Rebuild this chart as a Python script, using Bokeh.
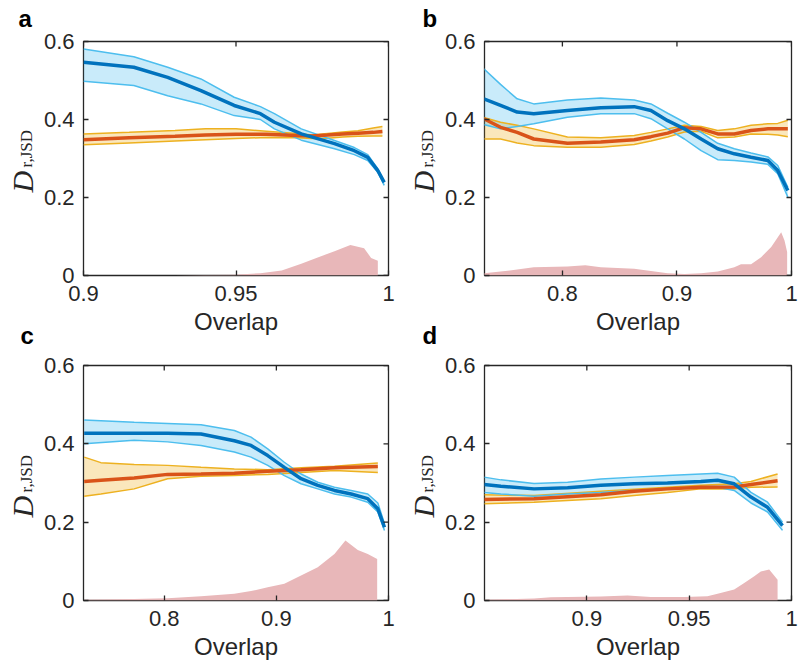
import math
from bokeh.plotting import figure
from bokeh.models import Range1d, FixedTicker, Label
from bokeh.layouts import column, row
from bokeh.embed import file_html
from bokeh.resources import INLINE

# ---------------- data ----------------
y_range = [0.0, 0.6]
y_ticks = [0.0, 0.2, 0.4, 0.6]
y_tick_labels = ["0", "0.2", "0.4", "0.6"]
panel_letters = ["a", "b", "c", "d"]
x_label = "Overlap"
y_label_main = "D"
y_label_sub = "r,JSD"

# panel a
a_xrange = [0.9, 1.0]
a_xticks = [0.9, 0.95, 1.0]
a_xtick_labels = ["0.9", "0.95", "1"]
a_blue_x = [0.9, 0.9165, 0.9276, 0.9385, 0.9494, 0.958, 0.9626, 0.9714, 0.9823, 0.9888, 0.9932, 0.9965, 0.9986]
a_blue_mean = [0.547, 0.534, 0.508, 0.474, 0.436, 0.415, 0.393, 0.363, 0.338, 0.320, 0.303, 0.269, 0.239]
a_blue_hi = [0.581, 0.561, 0.534, 0.504, 0.457, 0.433, 0.415, 0.376, 0.346, 0.328, 0.310, 0.273, 0.241]
a_blue_lo = [0.498, 0.487, 0.461, 0.440, 0.410, 0.400, 0.376, 0.347, 0.325, 0.310, 0.295, 0.265, 0.231]
a_or_x = [0.9, 0.915, 0.93, 0.94, 0.95, 0.96, 0.97, 0.975, 0.98, 0.985, 0.99, 0.995, 0.998]
a_red = [0.348, 0.353, 0.357, 0.360, 0.362, 0.362, 0.359, 0.358, 0.360, 0.363, 0.365, 0.367, 0.369]
a_or_hi = [0.363, 0.367, 0.372, 0.376, 0.376, 0.370, 0.364, 0.360, 0.364, 0.368, 0.371, 0.378, 0.382]
a_or_lo = [0.335, 0.340, 0.345, 0.348, 0.351, 0.354, 0.353, 0.351, 0.352, 0.355, 0.357, 0.358, 0.358]
a_hist_x = [0.9, 0.93, 0.94, 0.9494, 0.958, 0.965, 0.9714, 0.977, 0.9823, 0.9875, 0.992, 0.9943, 0.9965]
a_hist_y = [0.0, 0.0, 0.001, 0.002, 0.006, 0.013, 0.030, 0.047, 0.062, 0.078, 0.070, 0.045, 0.038]

# panel b
b_xrange = [0.732, 1.0]
b_xticks = [0.8, 0.9, 1.0]
b_xtick_labels = ["0.8", "0.9", "1"]
b_blue_x = [0.7314, 0.746, 0.7605, 0.775, 0.8044, 0.8335, 0.8627, 0.8773, 0.8919, 0.9065, 0.9211, 0.9356, 0.9501, 0.9647, 0.9794, 0.988, 0.9968]
b_blue_mean = [0.453, 0.436, 0.419, 0.415, 0.423, 0.430, 0.433, 0.423, 0.397, 0.376, 0.350, 0.325, 0.312, 0.303, 0.295, 0.269, 0.218]
b_blue_hi = [0.530, 0.490, 0.453, 0.440, 0.450, 0.455, 0.450, 0.440, 0.416, 0.393, 0.367, 0.339, 0.325, 0.314, 0.304, 0.282, 0.226]
b_blue_lo = [0.387, 0.376, 0.382, 0.389, 0.406, 0.415, 0.415, 0.402, 0.376, 0.350, 0.320, 0.297, 0.295, 0.291, 0.285, 0.261, 0.201]
b_or_x = [0.7314, 0.746, 0.7605, 0.775, 0.8044, 0.8335, 0.8627, 0.8773, 0.8919, 0.9065, 0.9211, 0.9356, 0.9501, 0.9647, 0.9794, 0.988, 0.9968]
b_red = [0.402, 0.380, 0.367, 0.350, 0.339, 0.342, 0.348, 0.356, 0.365, 0.379, 0.376, 0.363, 0.363, 0.372, 0.376, 0.376, 0.376]
b_or_hi = [0.405, 0.393, 0.385, 0.376, 0.355, 0.353, 0.359, 0.367, 0.376, 0.385, 0.382, 0.372, 0.376, 0.385, 0.389, 0.390, 0.398]
b_or_lo = [0.350, 0.350, 0.340, 0.333, 0.329, 0.329, 0.336, 0.345, 0.355, 0.368, 0.370, 0.353, 0.355, 0.363, 0.362, 0.360, 0.356]
b_hist_x = [0.7314, 0.746, 0.775, 0.8044, 0.82, 0.8335, 0.8627, 0.8919, 0.9065, 0.9211, 0.9356, 0.9501, 0.9559, 0.9647, 0.9735, 0.9823, 0.991, 0.9939, 0.9962]
b_hist_y = [0.006, 0.010, 0.021, 0.023, 0.026, 0.021, 0.017, 0.006, 0.004, 0.006, 0.010, 0.021, 0.029, 0.029, 0.047, 0.073, 0.111, 0.090, 0.060]

# panel c
c_xrange = [0.728, 1.0]
c_xticks = [0.8, 0.9, 1.0]
c_xtick_labels = ["0.8", "0.9", "1"]
c_blue_x = [0.7286, 0.7732, 0.803, 0.8328, 0.8625, 0.8774, 0.8923, 0.9071, 0.922, 0.9369, 0.9518, 0.9667, 0.9815, 0.9905, 0.9964]
c_blue_mean = [0.427, 0.427, 0.427, 0.425, 0.408, 0.396, 0.370, 0.340, 0.311, 0.294, 0.281, 0.272, 0.260, 0.234, 0.187]
c_blue_hi = [0.461, 0.455, 0.452, 0.449, 0.434, 0.417, 0.387, 0.353, 0.323, 0.302, 0.289, 0.281, 0.272, 0.249, 0.196]
c_blue_lo = [0.400, 0.409, 0.405, 0.396, 0.379, 0.366, 0.345, 0.319, 0.298, 0.285, 0.272, 0.264, 0.251, 0.226, 0.179]
c_or_x = [0.7286, 0.7435, 0.7732, 0.803, 0.8328, 0.8625, 0.8923, 0.922, 0.9518, 0.9905]
c_red = [0.304, 0.307, 0.313, 0.322, 0.323, 0.325, 0.330, 0.334, 0.339, 0.342]
c_or_hi = [0.366, 0.352, 0.347, 0.345, 0.340, 0.336, 0.334, 0.339, 0.343, 0.351]
c_or_lo = [0.266, 0.272, 0.285, 0.311, 0.317, 0.319, 0.322, 0.327, 0.332, 0.327]
c_hist_x = [0.7286, 0.7732, 0.803, 0.8328, 0.8625, 0.8774, 0.8923, 0.9071, 0.922, 0.9369, 0.9518, 0.9616, 0.9726, 0.9815, 0.9899]
c_hist_y = [0.002, 0.004, 0.006, 0.011, 0.017, 0.024, 0.034, 0.043, 0.064, 0.085, 0.119, 0.153, 0.129, 0.119, 0.106]

# panel d
d_xrange = [0.85, 1.0]
d_xticks = [0.9, 0.95, 1.0]
d_xtick_labels = ["0.9", "0.95", "1"]
d_blue_x = [0.8498, 0.858, 0.8742, 0.8906, 0.9068, 0.9231, 0.9394, 0.9557, 0.9639, 0.972, 0.9802, 0.9883, 0.9956]
d_blue_mean = [0.296, 0.292, 0.285, 0.288, 0.294, 0.298, 0.300, 0.304, 0.307, 0.298, 0.264, 0.238, 0.191]
d_blue_hi = [0.315, 0.308, 0.299, 0.302, 0.310, 0.315, 0.319, 0.323, 0.325, 0.315, 0.276, 0.251, 0.200]
d_blue_lo = [0.276, 0.272, 0.266, 0.272, 0.276, 0.281, 0.285, 0.288, 0.289, 0.281, 0.249, 0.226, 0.179]
d_or_x = [0.8498, 0.8742, 0.9068, 0.9231, 0.9394, 0.9557, 0.972, 0.9802, 0.9932]
d_red = [0.258, 0.260, 0.270, 0.279, 0.285, 0.289, 0.290, 0.296, 0.306]
d_or_hi = [0.270, 0.268, 0.279, 0.284, 0.289, 0.294, 0.298, 0.304, 0.323]
d_or_lo = [0.247, 0.251, 0.260, 0.268, 0.276, 0.285, 0.285, 0.289, 0.290]
d_hist_x = [0.8498, 0.8742, 0.8824, 0.8906, 0.9068, 0.9199, 0.9313, 0.9476, 0.9589, 0.9639, 0.972, 0.9769, 0.9818, 0.985, 0.9891, 0.9932]
d_hist_y = [0.002, 0.005, 0.008, 0.009, 0.010, 0.013, 0.009, 0.009, 0.011, 0.017, 0.028, 0.045, 0.062, 0.074, 0.079, 0.053]

# ---------------- style ----------------
AX = "#262626"
DARK_BLUE = "#0072BD"
LIGHT_BLUE = "#4DBEEE"
RED = "#D95319"
YELLOW = "#EDB120"
PINK = "#E8B7B9"
SANS = "Liberation Sans"
SERIF = "Liberation Serif"
BORDER_L = 115


def style_axis(ax, ticks, labels, standoff):
    ax.ticker = FixedTicker(ticks=ticks, minor_ticks=[])
    ax.axis_line_color = None
    ax.major_tick_line_color = AX
    ax.major_tick_line_width = 1.3
    ax.major_tick_in = 5
    ax.major_tick_out = 0
    ax.minor_tick_line_color = None
    ax.major_label_overrides = {t: l for t, l in zip(ticks, labels)}
    ax.major_label_text_font = SANS
    ax.major_label_text_font_size = "22px"
    ax.major_label_text_color = AX
    ax.major_label_standoff = standoff


def make_panel(xr, xticks, xlabels, bx, bmean, bhi, blo, ox, ored, ohi, olo, hx, hy,
               fw, fh, top_letter, bottom_letter, mb_right, mb_top, mb_bottom, margin):
    p = figure(frame_width=fw, frame_height=fh,
               x_range=Range1d(xr[0], xr[1]), y_range=Range1d(y_range[0], y_range[1]),
               output_backend="svg", toolbar_location=None,
               min_border_left=BORDER_L, min_border_right=mb_right,
               min_border_top=mb_top, min_border_bottom=mb_bottom, margin=margin)
    p.xgrid.visible = False
    p.ygrid.visible = False
    p.outline_line_color = AX
    p.outline_line_width = 1.3
    p.background_fill_color = "white"
    p.border_fill_color = None

    # pixel -> data helpers for text placement
    def px_x(px):
        return xr[0] + px * (xr[1] - xr[0]) / fw

    def px_y(py):
        return y_range[0] + py * (y_range[1] - y_range[0]) / fh

    # histogram-like area
    p.varea(x=list(hx) + [hx[-1]], y1=0, y2=list(hy) + [0], fill_color=PINK, fill_alpha=1.0)
    # bands
    p.varea(x=ox, y1=olo, y2=ohi, fill_color=YELLOW, fill_alpha=0.3)
    p.varea(x=bx, y1=blo, y2=bhi, fill_color=LIGHT_BLUE, fill_alpha=0.3)
    p.line(ox, ohi, line_color=YELLOW, line_width=1.5)
    p.line(ox, olo, line_color=YELLOW, line_width=1.5)
    p.line(bx, bhi, line_color=LIGHT_BLUE, line_width=1.5)
    p.line(bx, blo, line_color=LIGHT_BLUE, line_width=1.5)
    p.line(ox, ored, line_color=RED, line_width=3.5)
    p.line(bx, bmean, line_color=DARK_BLUE, line_width=3.5)

    # axes
    style_axis(p.xaxis[0], xticks, xlabels, 10)
    style_axis(p.yaxis[0], y_ticks, y_tick_labels, 9)
    p.xaxis[0].axis_label = x_label
    p.xaxis[0].axis_label_text_font = SANS
    p.xaxis[0].axis_label_text_font_size = "24px"
    p.xaxis[0].axis_label_text_font_style = "normal"
    p.xaxis[0].axis_label_text_color = AX
    p.xaxis[0].axis_label_standoff = 4
    # mirrored inward ticks on top and right edges (MATLAB box)
    p.scatter(x=xticks, y=[y_range[1]] * len(xticks), marker="dash", angle=math.pi / 2,
              size=10, line_color=AX, line_width=1.3)
    p.scatter(x=[xr[1]] * len(y_ticks), y=y_ticks, marker="dash",
              size=10, line_color=AX, line_width=1.3)

    # y label: D_{r,JSD}
    p.add_layout(Label(x=px_x(-61), y=px_y(83), text=y_label_main,
                       angle=math.pi / 2, text_align="left", text_baseline="alphabetic",
                       text_font=SERIF, text_font_style="italic", text_font_size="30px",
                       text_color=AX), "left")
    p.add_layout(Label(x=px_x(-57), y=px_y(108), text=y_label_sub,
                       angle=math.pi / 2, text_align="left", text_baseline="alphabetic",
                       text_font=SERIF, text_font_size="17px", text_color=AX), "left")
    # panel letters
    if top_letter is not None:
        txt, lx = top_letter
        p.add_layout(Label(x=px_x(lx), y=px_y(fh + 23), text=txt,
                           text_align="left", text_baseline="alphabetic",
                           text_font=SANS, text_font_style="bold", text_font_size="24px",
                           text_color="black"), "above")
    if bottom_letter is not None:
        txt, lx = bottom_letter
        p.add_layout(Label(x=px_x(lx), y=px_y(-60), text=txt,
                           text_align="left", text_baseline="alphabetic",
                           text_font=SANS, text_font_style="bold", text_font_size="24px",
                           text_color="black"), "left")
    return p


pa = make_panel(a_xrange, a_xticks, a_xtick_labels, a_blue_x, a_blue_mean, a_blue_hi, a_blue_lo,
                a_or_x, a_red, a_or_hi, a_or_lo, a_hist_x, a_hist_y,
                305, 234, (panel_letters[0], -65), (panel_letters[2], -63),
                8, 41, 77, (0, 0, 0, 83 - BORDER_L))
pb = make_panel(b_xrange, b_xticks, b_xtick_labels, b_blue_x, b_blue_mean, b_blue_hi, b_blue_lo,
                b_or_x, b_red, b_or_hi, b_or_lo, b_hist_x, b_hist_y,
                307, 234, (panel_letters[1], -62), (panel_letters[3], -62),
                8, 41, 77, (0, 0, 0, 484 - BORDER_L - (83 + 305 + 8)))
pc = make_panel(c_xrange, c_xticks, c_xtick_labels, c_blue_x, c_blue_mean, c_blue_hi, c_blue_lo,
                c_or_x, c_red, c_or_hi, c_or_lo, c_hist_x, c_hist_y,
                305, 235, None, None,
                8, 13, 66, (0, 0, 0, 83 - BORDER_L))
pd_ = make_panel(d_xrange, d_xticks, d_xtick_labels, d_blue_x, d_blue_mean, d_blue_hi, d_blue_lo,
                 d_or_x, d_red, d_or_hi, d_or_lo, d_hist_x, d_hist_y,
                 307, 235, None, None,
                 8, 13, 66, (0, 0, 0, 484 - BORDER_L - (83 + 305 + 8)))

layout = column(row(pa, pb), row(pc, pd_))
open("out.html", "w").write(file_html(layout, INLINE))
